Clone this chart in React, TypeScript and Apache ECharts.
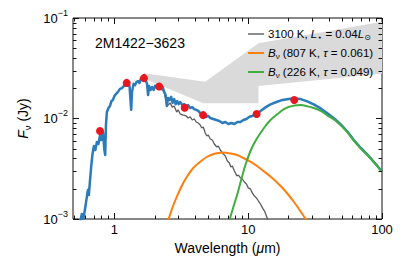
import React, { useEffect, useRef } from "react";
import * as echarts from "echarts";

const FONT = '"Liberation Sans", Arial, Helvetica, "DejaVu Sans", sans-serif';

// ---- axes ----
const X_MIN = 0.49;
const X_MAX = 100;
const Y_MIN = 0.001;
const Y_MAX = 0.1;
const xTickLabels = [1, 10, 100];
const yTickLabels = [0.001, 0.01, 0.1];
const tickMantissas = [1, 2, 3, 4, 5, 6, 7, 8, 9];

// ---- total model (blue) ----
const modelWavelength = [
  0.556, 0.570, 0.585, 0.601, 0.617, 0.633, 0.644, 0.655, 0.672, 0.684,
  0.702, 0.720, 0.739, 0.759, 0.779, 0.799, 0.820, 0.841, 0.853, 0.864,
  0.878, 0.902, 0.925, 0.950, 0.974, 1.000, 1.026, 1.062, 1.100, 1.138,
  1.178, 1.220, 1.263, 1.296, 1.318, 1.334, 1.353, 1.389, 1.425, 1.462,
  1.501, 1.540, 1.581, 1.622, 1.665, 1.709, 1.753, 1.784, 1.815, 1.863,
  1.911, 1.962, 2.013, 2.084, 2.157, 2.233, 2.292, 2.352, 2.413, 2.464,
  2.520, 2.586, 2.654, 2.724, 2.795, 2.869, 2.944, 3.021, 3.100, 3.209,
  3.322, 3.439, 3.560, 3.685, 3.814, 3.948, 4.087, 4.231, 4.380, 4.534,
  4.693, 4.858, 5.029, 5.206, 5.482, 5.774, 6.081, 6.404, 6.745, 7.104,
  7.482, 7.881, 8.299, 8.740, 9.205, 9.694, 10.21, 10.75, 11.52, 12.35,
  13.46, 14.67, 16.27, 18.06, 20.02, 22.22, 24.64, 27.33, 30.84, 34.80,
  39.27, 44.34, 49.17, 55.49, 61.54, 69.45, 78.39, 88.45, 100,
];
const modelFlux = [
  9.34e-4, 1.12e-3, 1.0e-3, 1.23e-3, 1.55e-3, 1.94e-3, 1.73e-3, 2.33e-3, 3.45e-3, 4.33e-3,
  5.33e-3, 4.86e-3, 5.84e-3, 5.58e-3, 6.7e-3, 6.11e-3, 7.34e-3, 4.86e-3, 4.33e-3, 8.62e-3,
  0.0116, 0.0127, 0.0133, 0.0149, 0.0153, 0.0168, 0.0175, 0.0184, 0.0197, 0.0201,
  0.0211, 0.0215, 0.0221, 0.0211, 0.0153, 0.0122, 0.0184, 0.0221, 0.0215, 0.0231,
  0.0236, 0.0226, 0.0253, 0.0259, 0.0271, 0.0242, 0.0221, 0.0171, 0.0211, 0.0192,
  0.0206, 0.0192, 0.0211, 0.0206, 0.0211, 0.0201, 0.0206, 0.0184, 0.0171, 0.0133,
  0.016, 0.0153, 0.0164, 0.0143, 0.0156, 0.0139, 0.0149, 0.0139, 0.0146, 0.0136,
  0.0139, 0.0133, 0.0136, 0.0127, 0.013, 0.0124, 0.0122, 0.0119, 0.0113, 0.0111,
  0.0108, 0.0104, 0.0106, 0.0101, 0.00989, 0.00966, 0.00944, 0.00902, 0.00923, 0.00882,
  0.00902, 0.00882, 0.00923, 0.00923, 0.00966, 0.00989, 0.0104, 0.0106, 0.0111, 0.0119,
  0.0129, 0.0138, 0.0146, 0.0153, 0.0156, 0.0158, 0.0156, 0.0149, 0.0138, 0.0126,
  0.0112, 0.00989, 0.00872, 0.00734, 0.00611, 0.00509, 0.00433, 0.00361, 0.00297,
];

// ---- 3100 K photosphere (grey) ----
const photoWavelength = [
  2.194, 2.352, 2.455, 2.520, 2.609, 2.700, 2.795, 2.919, 2.995, 3.100,
  3.265, 3.439, 3.560, 3.685, 3.814, 3.948, 4.087, 4.231, 4.380, 4.495,
  4.613, 4.775, 4.900, 5.029, 5.206, 5.389, 5.578, 5.824, 5.977, 6.187,
  6.516, 6.745, 6.982, 7.228, 7.417, 7.611, 7.881, 8.227, 8.443, 8.740,
  9.047, 9.365, 9.694, 10.03, 10.39, 10.75, 11.13, 11.52, 11.93, 12.35,
  12.78, 13.23, 13.58, 13.93, 14.30,
];
const photoFlux = [
  0.0201, 0.0184, 0.0139, 0.0136, 0.0143, 0.013, 0.0133, 0.0116, 0.0122, 0.0111,
  0.0108, 0.0106, 0.0101, 0.0104, 0.00966, 0.00989, 0.00923, 0.00902, 0.00862, 0.00804,
  0.00823, 0.00717, 0.0067, 0.00685, 0.00625, 0.00611, 0.00558, 0.00521, 0.00533, 0.00486,
  0.00443, 0.00424, 0.00378, 0.00361, 0.00329, 0.00337, 0.003, 0.00268, 0.00274, 0.00256,
  0.0025, 0.00233, 0.00223, 0.00203, 0.00199, 0.00181, 0.00169, 0.00162, 0.00151, 0.00141,
  0.00129, 0.0012, 0.0011, 0.001, 0.00089,
];

// ---- B_nu 807 K (orange) ----
const warmWavelength = [
  2.331, 2.533, 2.724, 2.928, 3.181, 3.480, 3.880, 4.380, 4.900, 5.511,
  5.977, 6.550, 7.355, 8.255, 9.205, 10.39, 11.62, 13.00, 14.67, 16.27,
  18.06, 20.02, 21.83, 24.22, 26.86, 28.78,
];
const warmFlux = [
  8.52e-4, 1.0e-3, 1.317e-3, 1.667e-3, 2.13e-3, 2.636e-3, 3.217e-3, 3.716e-3, 4.139e-3, 4.434e-3,
  4.536e-3, 4.578e-3, 4.484e-3, 4.333e-3, 4.046e-3, 3.716e-3, 3.368e-3, 3.003e-3, 2.647e-3, 2.334e-3,
  2.034e-3, 1.733e-3, 1.493e-3, 1.229e-3, 1.0e-3, 8.52e-4,
];

// ---- B_nu 226 K (green) ----
const coldWavelength = [
  7.104, 7.291, 7.744, 8.299, 8.892, 9.528, 10.39, 11.32, 12.35, 13.46,
  14.67, 16.56, 18.37, 20.02, 22.22, 24.64, 27.81, 30.84, 34.80, 39.27,
  44.34, 49.17, 55.49, 61.54, 69.45, 78.39, 88.45, 100,
];
const coldFlux = [
  8.52e-4, 1.0e-3, 1.317e-3, 1.773e-3, 2.5e-3, 3.446e-3, 4.749e-3, 5.971e-3, 7.173e-3, 8.42e-3,
  9.663e-3, 0.01108, 0.0123, 0.013, 0.0135, 0.0136, 0.0132, 0.0127, 0.0119, 0.0107,
  0.00965, 0.00855, 0.00722, 0.00602, 0.00502, 0.00428, 0.00357, 0.00294,
];

// ---- photometry (red) ----
const photWavelength = [0.78, 1.235, 1.662, 2.159, 3.35, 4.6, 11.56, 22.09];
const photFlux = [0.0075, 0.0226, 0.0252, 0.0208, 0.0128, 0.0108, 0.0111, 0.0153];

// ---- shaded region (grey) ----
const shadeWavelength = [1.66, 4.77, 11.93, 100, 100, 11.93, 11.93, 4.61, 1.66];
const shadeFlux = [0.0282, 0.0232, 0.056, 0.0919, 0.0278, 0.021, 0.0142, 0.0142, 0.025];

// ---- legend ----
const legendLabels = [
  "3100 K, {i|L}{s|⋆} = 0.04{i|L}{s|⊙}",
  "{i|B}{s|ν} (807 K, {i|τ} = 0.061)",
  "{i|B}{s|ν} (226 K, {i|τ} = 0.049)",
];
const COLORS = {
  model: "#2b7bba",
  photo: "#5c5c5c",
  warm: "#ff7f0e",
  cold: "#3fae3f",
  phot: "#e8161e",
  shade: "#dadada",
  axis: "#111111",
};
const legendColors = [COLORS.photo, COLORS.warm, COLORS.cold];
const legendWidths = [1.4, 2, 2];

const zip = (a: number[], b: number[]) => a.map((v, i) => [v, b[i]]);

function logTicks(min: number, max: number) {
  const out: number[][] = [];
  for (let e = Math.floor(Math.log10(min)); e <= Math.ceil(Math.log10(max)); e++) {
    for (const m of tickMantissas) {
      const v = parseFloat((m * Math.pow(10, e)).toPrecision(6));
      if (v >= min * 0.9999 && v <= max * 1.0001) out.push([v, m === 1 ? 1 : 0]);
    }
  }
  return out;
}

const isNear = (v: number, t: number) => Math.abs(Math.log10(v / t)) < 1e-6;

const richBase = {
  i: { fontStyle: "italic", fontFamily: FONT, color: "#000" },
};

function buildOption() {
  const xt = logTicks(X_MIN, X_MAX).map(([v, m]) => [v, 0.01, m]);
  const yt = logTicks(Y_MIN, Y_MAX).map(([v, m]) => [1, v, m]);
  const tickStyle = { stroke: COLORS.axis, lineWidth: 1 };

  const graphic: any[] = [
    {
      type: "text",
      x: 95,
      y: 43,
      z: 100,
      style: {
        text: "2M1422−3623",
        fontSize: 14,
        fontFamily: FONT,
        fill: "#000",
        verticalAlign: "middle",
      },
    },
  ];
  legendLabels.forEach((label, k) => {
    const y = 34 + k * 19;
    graphic.push({
      type: "line",
      z: 100,
      shape: { x1: 248, y1: y, x2: 264, y2: y },
      style: { stroke: legendColors[k], lineWidth: legendWidths[k] },
    });
    graphic.push({
      type: "text",
      x: 268,
      y,
      z: 100,
      style: {
        text: label,
        fontSize: 11.5,
        fontFamily: FONT,
        fill: "#000",
        verticalAlign: "middle",
        rich: {
          i: { fontStyle: "italic", fontSize: 11.5, fontFamily: FONT, fill: "#000", lineHeight: 15 },
          s: { fontSize: 8, fontFamily: FONT, fill: "#000", verticalAlign: "bottom" },
        },
      },
    });
  });

  return {
    animation: false,
    backgroundColor: "#ffffff",
    textStyle: { fontFamily: FONT },
    grid: {
      left: 73,
      right: 29,
      top: 18,
      bottom: 42,
      show: true,
      borderColor: COLORS.axis,
      borderWidth: 1,
      backgroundColor: "transparent",
      containLabel: false,
    },
    xAxis: {
      type: "log",
      logBase: 10,
      min: X_MIN,
      max: X_MAX,
      name: "Wavelength ({i|μ}m)",
      nameLocation: "middle",
      nameGap: 17,
      nameTextStyle: {
        fontSize: 14,
        fontFamily: FONT,
        color: "#000",
        verticalAlign: "top",
        rich: { i: { ...richBase.i, fontSize: 14 } },
      },
      axisLine: { show: false },
      axisTick: { show: false },
      minorTick: { show: false },
      splitLine: { show: false },
      axisLabel: {
        margin: 4,
        fontSize: 13,
        fontFamily: FONT,
        color: "#000",
        formatter: (v: number) => {
          const hit = xTickLabels.find((t) => isNear(v, t));
          return hit === undefined ? "" : String(hit);
        },
      },
    },
    yAxis: {
      type: "log",
      logBase: 10,
      min: Y_MIN,
      max: Y_MAX,
      name: "{i|F}{s|ν} (Jy)",
      nameLocation: "middle",
      nameRotate: 90,
      nameGap: 40,
      nameTextStyle: {
        fontSize: 14,
        fontFamily: FONT,
        color: "#000",
        rich: {
          i: { ...richBase.i, fontSize: 14, lineHeight: 18 },
          s: { fontSize: 9.5, fontFamily: FONT, color: "#000", verticalAlign: "bottom" },
        },
      },
      axisLine: { show: false },
      axisTick: { show: false },
      minorTick: { show: false },
      splitLine: { show: false },
      axisLabel: {
        margin: 5,
        fontSize: 13,
        fontFamily: FONT,
        color: "#000",
        formatter: (v: number) => {
          const hit = yTickLabels.find((t) => isNear(v, t));
          if (hit === undefined) return "";
          const e = Math.round(Math.log10(hit));
          return `{b|10}{p|${e < 0 ? "−" : ""}${Math.abs(e)}}`;
        },
        rich: {
          b: { fontSize: 13, fontFamily: FONT, color: "#000", lineHeight: 20 },
          p: { fontSize: 9, fontFamily: FONT, color: "#000", verticalAlign: "top" },
        },
      },
    },
    series: [
      {
        type: "custom",
        name: "shade",
        silent: true,
        z: 1,
        data: [[1, 0.01]],
        renderItem: (_p: any, api: any) => ({
          type: "polygon",
          shape: { points: shadeWavelength.map((w, i) => api.coord([w, shadeFlux[i]])) },
          style: { fill: COLORS.shade },
        }),
      },
      {
        type: "line",
        name: "3100 K",
        data: zip(photoWavelength, photoFlux),
        showSymbol: false,
        z: 3,
        lineStyle: { color: COLORS.photo, width: 1.3 },
        itemStyle: { color: COLORS.photo },
      },
      {
        type: "line",
        name: "model",
        data: zip(modelWavelength, modelFlux),
        showSymbol: false,
        z: 4,
        lineStyle: { color: COLORS.model, width: 2.5, join: "round" },
        itemStyle: { color: COLORS.model },
      },
      {
        type: "line",
        name: "807 K",
        data: zip(warmWavelength, warmFlux),
        showSymbol: false,
        smooth: 0.3,
        z: 5,
        lineStyle: { color: COLORS.warm, width: 2 },
        itemStyle: { color: COLORS.warm },
      },
      {
        type: "line",
        name: "226 K",
        data: zip(coldWavelength, coldFlux),
        showSymbol: false,
        smooth: 0.3,
        z: 6,
        lineStyle: { color: COLORS.cold, width: 2 },
        itemStyle: { color: COLORS.cold },
      },
      {
        type: "scatter",
        name: "photometry",
        data: zip(photWavelength, photFlux),
        symbolSize: 8,
        z: 8,
        itemStyle: { color: COLORS.phot, opacity: 1 },
      },
      {
        type: "custom",
        name: "xticks",
        silent: true,
        z: 9,
        data: xt,
        encode: { x: 0, y: 1 },
        renderItem: (_p: any, api: any) => {
          const v = api.value(0);
          const len = api.value(2) === 1 ? 6 : 3.5;
          const b = api.coord([v, Y_MIN]);
          const t = api.coord([v, Y_MAX]);
          const x = Math.round(b[0]) + 0.5;
          return {
            type: "group",
            children: [
              { type: "line", shape: { x1: x, y1: b[1], x2: x, y2: b[1] - len }, style: tickStyle },
              { type: "line", shape: { x1: x, y1: t[1], x2: x, y2: t[1] + len }, style: tickStyle },
            ],
          };
        },
      },
      {
        type: "custom",
        name: "yticks",
        silent: true,
        z: 9,
        data: yt,
        encode: { x: 0, y: 1 },
        renderItem: (_p: any, api: any) => {
          const v = api.value(1);
          const len = api.value(2) === 1 ? 6 : 3.5;
          const l = api.coord([X_MIN, v]);
          const r = api.coord([X_MAX, v]);
          const y = Math.round(l[1]) + 0.5;
          return {
            type: "group",
            children: [
              { type: "line", shape: { x1: l[0], y1: y, x2: l[0] + len, y2: y }, style: tickStyle },
              { type: "line", shape: { x1: r[0], y1: y, x2: r[0] - len, y2: y }, style: tickStyle },
            ],
          };
        },
      },
    ],
    graphic,
  };
}

export default function App() {
  const ref = useRef<HTMLDivElement>(null);
  useEffect(() => {
    if (!ref.current) return;
    const chart = echarts.init(ref.current, null, { renderer: "svg" });
    chart.setOption(buildOption() as any);
    return () => chart.dispose();
  }, []);
  return (
    <div
      ref={ref}
      style={{ position: "fixed", left: 0, top: 0, width: 411, height: 261, background: "#fff" }}
    />
  );
}
